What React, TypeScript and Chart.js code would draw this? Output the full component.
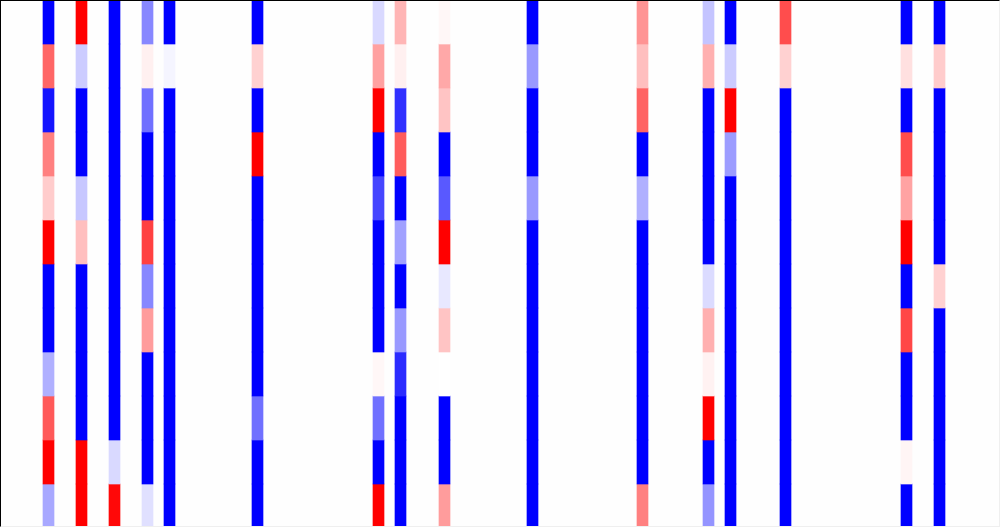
import React, { useEffect, useRef } from "react";
import { Chart, registerables } from "chart.js";

Chart.register(...registerables);

// Grid size
const N_COLS = 91;
const N_ROWS = 12;

// Columns that hold data (all other columns are empty)
const columnIndex = [4, 7, 10, 13, 15, 23, 34, 36, 40, 48, 58, 64, 66, 71, 82, 85];

// Values per column, top row first, on a -1 (blue) .. +1 (red) scale
const c04 = [-1, 0.6, -0.92, 0.5, 0.2, 1, -1, -1, -0.31, 0.65, 1, -0.34];
const c07 = [1, -0.2, -1, -1, -0.22, 0.25, -1, -1, -1, -1, 1, 1];
const c10 = [-1, -1, -1, -1, -1, -1, -1, -1, -1, -1, -0.15, 0.97];
const c13 = [-0.47, 0.06, -0.56, -1, -1, 0.75, -0.47, 0.39, -1, -1, -1, -0.12];
const c15 = [-1, -0.04, -1, -1, -1, -1, -1, -1, -1, -1, -1, -1];
const c23 = [-1, 0.18, -1, 1, -1, -1, -1, -1, -1, -0.56, -1, -1];
const c34 = [-0.15, 0.37, 1, -1, -0.73, -1, -1, -1, 0.03, -0.56, -1, 1];
const c36 = [0.29, 0.06, -0.81, 0.64, -1, -0.37, -1, -0.4, -0.83, -1, -1, -1];
const c40 = [0.03, 0.34, 0.23, -1, -0.65, 1, -0.09, 0.23, 0, -1, -1, 0.39];
const c48 = [-1, -0.4, -1, -1, -0.4, -1, -1, -1, -1, -1, -1, -1];
const c58 = [0.42, 0.25, 0.61, -1, -0.31, -1, -1, -1, -1, -1, -1, 0.5];
const c64 = [-0.23, 0.31, -1, -1, -1, -1, -0.14, 0.31, 0.05, 1, -1, -0.42];
const c66 = [-1, -0.2, 1, -0.39, -1, -1, -1, -1, -1, -1, -1, -1];
const c71 = [0.7, 0.18, -1, -1, -1, -1, -1, -1, -1, -1, -1, -1];
const c82 = [-1, 0.12, -1, 0.7, 0.36, 1, -1, 0.72, -1, -1, 0.04, -1];
const c85 = [-1, 0.2, -1, -1, -1, -1, 0.18, -1, -1, -1, -1, -1];

const columnValues = [c04, c07, c10, c13, c15, c23, c34, c36, c40, c48, c58, c64, c66, c71, c82, c85];

function bwr(v: number): string {
  const x = Math.max(-1, Math.min(1, v));
  if (x < 0) {
    const t = Math.round(255 * (1 + x));
    return `rgb(${t},${t},255)`;
  }
  const t = Math.round(255 * (1 - x));
  return `rgb(255,${t},${t})`;
}

export default function App() {
  const ref = useRef<HTMLCanvasElement | null>(null);

  useEffect(() => {
    if (!ref.current) return;
    const labels = Array.from({ length: N_COLS }, (_, i) => String(i));
    const datasets = Array.from({ length: N_ROWS }, (_, r) => {
      const data = labels.map((_, i) => (columnIndex.indexOf(i) >= 0 ? 1 : null));
      const colors = labels.map((_, i) => {
        const k = columnIndex.indexOf(i);
        return k >= 0 ? bwr(columnValues[k][r]) : "rgba(0,0,0,0)";
      });
      return {
        label: `row ${r}`,
        data,
        backgroundColor: colors,
        borderWidth: 0,
        categoryPercentage: 1,
        barPercentage: 1,
        stack: "grid",
      };
    });

    const chart = new Chart(ref.current, {
      type: "bar",
      data: { labels, datasets: datasets as any },
      options: {
        animation: false,
        responsive: false,
        devicePixelRatio: 1,
        layout: { padding: 0 },
        plugins: { legend: { display: false }, tooltip: { enabled: false } },
        scales: {
          x: { display: false, stacked: true },
          y: { display: false, stacked: true, min: 0, max: N_ROWS, reverse: true },
        },
      },
    });
    return () => chart.destroy();
  }, []);

  return (
    <div
      style={{
        position: "fixed",
        left: 0,
        top: 0,
        width: 1000,
        height: 527,
        overflow: "hidden",
        background: "#fefefe",
      }}
    >
      <canvas
        ref={ref}
        width={1001}
        height={528}
        style={{ position: "absolute", left: -1, top: 0, width: 1001, height: 528 }}
      />
      <div
        style={{
          position: "absolute",
          inset: 0,
          boxSizing: "border-box",
          borderTop: "1px solid #000",
          borderLeft: "1px solid #000",
          borderRight: "1px solid #efefef",
          borderBottom: "1px solid #efefef",
          pointerEvents: "none",
        }}
      />
    </div>
  );
}
